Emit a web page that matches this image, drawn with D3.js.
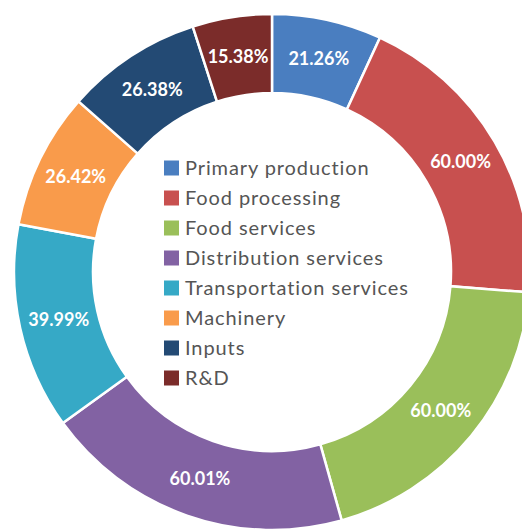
<!DOCTYPE html>
<html lang="en">
<head>
  <meta charset="UTF-8">
  <title>Donut</title>
  <style>
    body { margin: 0; background: #fff; }
    svg { display: block; }
    .slice-label {
      font-family: Lato, "Open Sans", sans-serif;
      font-weight: 700;
      font-size: 18px;
      fill: #fff;
    }
    .legend-text {
      font-family: Lato, "Open Sans", sans-serif;
      font-size: 20px;
      fill: #555;
      letter-spacing: 0.9px;
    }
  </style>
</head>
<body>
  <svg></svg>
<script src="https://cdnjs.cloudflare.com/ajax/libs/d3/7.8.5/d3.min.js"></script>
<script>
  let categories = ['Primary production', 'Food processing', 'Food services', 'Distribution services',
    'Transportation services', 'Machinery', 'Inputs', 'R&D'];
  let values = [21.26, 60.00, 60.00, 60.01, 39.99, 26.42, 26.38, 15.38];
  let colors = ['#4a7ec0', '#c8504f', '#9abf5a', '#8262a3', '#36a9c6', '#f99b4b', '#234a74', '#7b2c2a'];

  let width = 522,
    height = 529;

  let cx = 272, cy = 272,
    outer = 258, inner = 179;

  let svg = d3.select('svg')
    .attr('width', width)
    .attr('height', height);

  let data = categories.map((c, i) => ({ name: c, value: values[i], color: colors[i] }));

  let pie = d3.pie().sort(null).value(d => d.value);
  let arc = d3.arc().innerRadius(inner).outerRadius(outer);

  let g = svg.append('g')
    .attr('transform', `translate(${cx},${cy})`);

  let slices = g.selectAll('.slice')
    .data(pie(data))
    .enter()
    .append('g')
    .attr('class', 'slice');

  slices.append('path')
    .attr('d', arc)
    .attr('fill', d => d.data.color)
    .attr('stroke', '#fff')
    .attr('stroke-width', 2.5);

  slices.append('text')
    .attr('class', 'slice-label')
    .attr('transform', d => `translate(${arc.centroid(d)})`)
    .attr('text-anchor', 'middle')
    .attr('dy', '0.36em')
    .text(d => d.data.value.toFixed(2) + '%');

  // legend in the hole
  let legend = svg.append('g')
    .attr('transform', 'translate(164,168)');

  let rows = legend.selectAll('.row')
    .data(data)
    .enter()
    .append('g')
    .attr('transform', (d, i) => `translate(0,${i * 30})`);

  rows.append('rect')
    .attr('x', 0)
    .attr('y', -7.5)
    .attr('width', 15)
    .attr('height', 15)
    .attr('fill', d => d.color);

  rows.append('text')
    .attr('class', 'legend-text')
    .attr('x', 21)
    .attr('dy', '0.36em')
    .text(d => d.name);
</script>
</body>
</html>
